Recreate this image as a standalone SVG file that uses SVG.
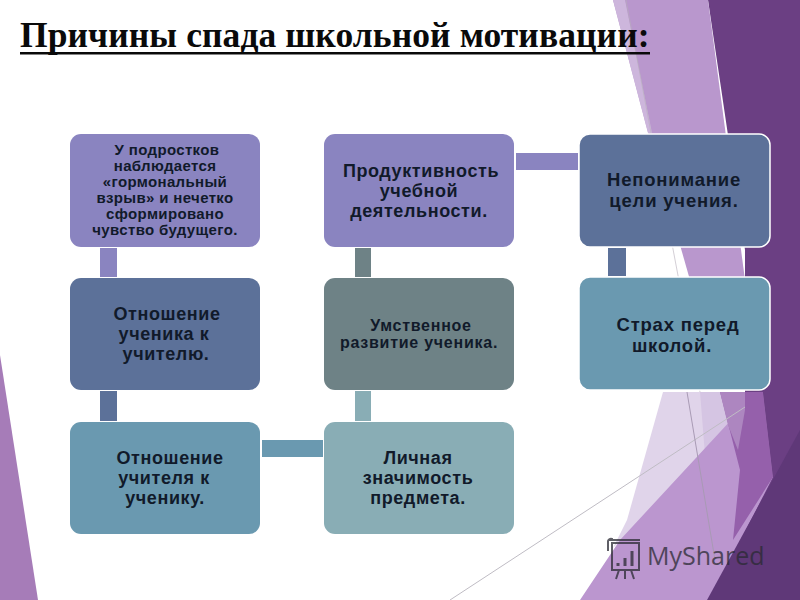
<svg xmlns="http://www.w3.org/2000/svg" width="800" height="600" viewBox="0 0 800 600">
<style>
text{font-family:"Liberation Sans",Arial,sans-serif;font-weight:bold;fill:#111a2a;text-anchor:middle}
.t18{font-size:18px;letter-spacing:.6px}
.t19{font-size:18.5px;letter-spacing:.8px}
.t15{font-size:16px;letter-spacing:.75px}
.t14{font-size:15px;letter-spacing:.35px}
.wl rect{stroke:#fff;stroke-width:1.5}
</style>
<rect width="800" height="600" fill="#fff"/>
<g id="background">
<polygon points="0,355 38,600 0,600" fill="#a67cb8"/>
<polygon points="708,0 800,0 800,600 700,600 745,392 745,250" fill="#6b3f83"/>
<polygon points="613,0 708,0 745,280 690,280 650,140" fill="#b997cd"/>
<polygon points="613,0 625,0 652,133 648,133" fill="#cdb6dc"/>
<polygon points="663,392 745,392 745,410 613,548 627,520" fill="#e0d4ea"/>
<polygon points="700,392 720,392 729,428 705,455" fill="#d5c5e3"/>
<polygon points="745,405 620,540 580,600 710,600 773,477 763,392 745,392" fill="#bb96cf"/>
<polygon points="720,392 763,392 773,477 733,540 740,470" fill="#9560ab"/>
<polygon points="720,392 745,392 745,410 738,450 728,425" fill="#ad86c0"/>
<polygon points="763,392 800,392 800,430 773,477" fill="#6b3f83"/>
<polygon points="800,430 707,600 800,600" fill="#5f3878"/>
<line x1="450" y1="600" x2="745" y2="407" stroke="#bfbcc4" stroke-width="1"/>
<line x1="687" y1="392" x2="715" y2="560" stroke="#a89ab4" stroke-width="1"/>
<line x1="626" y1="0" x2="700" y2="392" stroke="#b8b0bc" stroke-width="1" opacity=".6"/>
</g>
<g id="title">
<text x="20" y="47" style="font-family:'Liberation Serif','Times New Roman',serif;font-size:35.5px;fill:#0a0a0a;text-anchor:start;letter-spacing:.1px">Причины спада школьной мотивации:</text>
<rect x="20" y="52" width="630" height="2.5" fill="#0a0a0a"/>
</g>
<g id="connectors">
<rect x="100" y="248" width="17" height="29" fill="#8a84c0"/>
<rect x="100" y="391" width="17" height="30" fill="#5c7199"/>
<rect x="262" y="440" width="61" height="17" fill="#6a99b0"/>
<rect x="355" y="391" width="16" height="30" fill="#89adb5"/>
<rect x="355" y="248" width="16" height="29" fill="#6e8286"/>
<rect x="516" y="153" width="62" height="17" fill="#8a84c0"/>
<rect x="608" y="248" width="18" height="28" fill="#5c7199"/>
</g>
<g id="n1"><rect x="70" y="134" width="190" height="113" rx="11" fill="#8a84c0"/>
<text class="t14" x="167" y="155">У подростков</text><text class="t14" x="165" y="171">наблюдается</text><text class="t14" x="165" y="187">«гормональный</text><text class="t14" x="165" y="203">взрыв» и нечетко</text><text class="t14" x="165" y="219">сформировано</text><text class="t14" x="165" y="235">чувство будущего.</text></g>
<g id="n2"><rect x="70" y="278" width="190" height="112" rx="11" fill="#5c7199"/>
<text class="t18" x="167" y="320">Отношение</text><text class="t18" x="164" y="340">ученика к</text><text class="t18" x="166" y="360">учителю.</text></g>
<g id="n3"><rect x="70" y="422" width="190" height="112" rx="11" fill="#6a99b0"/>
<text class="t18" x="170" y="464">Отношение</text><text class="t18" x="164" y="484">учителя к</text><text class="t18" x="165" y="504">ученику.</text></g>
<g id="n4"><rect x="324" y="134" width="190" height="113" rx="11" fill="#8a84c0"/>
<text class="t18" x="421" y="177">Продуктивность</text><text class="t18" x="419" y="197">учебной</text><text class="t18" x="419" y="217">деятельности.</text></g>
<g id="n5"><rect x="324" y="278" width="190" height="112" rx="11" fill="#6e8286"/>
<text class="t15" x="421" y="331">Умственное</text><text class="t15" x="419" y="348">развитие ученика.</text></g>
<g id="n6"><rect x="324" y="422" width="190" height="112" rx="11" fill="#89adb5"/>
<text class="t18" x="418" y="464">Личная</text><text class="t18" x="418" y="484">значимость</text><text class="t18" x="418" y="504">предмета.</text></g>
<g id="n7" class="wl"><rect x="579" y="134" width="191" height="113" rx="11" fill="#5c7199"/>
<text class="t19" x="674" y="186">Непонимание</text><text class="t19" x="674" y="207">цели учения.</text></g>
<g id="n8" class="wl"><rect x="579" y="277" width="191" height="113" rx="11" fill="#6a99b0"/>
<text class="t19" x="678" y="331">Страх перед</text><text class="t19" x="672" y="352">школой.</text></g>
<g id="logo" opacity=".75" fill="none" stroke="#2a2a33" stroke-width="2">
<rect x="612" y="543" width="27" height="27"/>
<path d="M608 540h32M612 540v-1a3 3 0 0 0-4 2v10M619 570l-3 9M631 570l3 9M625 570v9"/>
<path d="M618 566v-3M625 566v-8M632 566v-15" stroke-width="3"/>
<text x="647" y="565" style="font-size:25px;font-weight:normal;fill:#2a2a33;stroke:none;text-anchor:start;font-family:'Open Sans','Liberation Sans',sans-serif">MyShared</text>
</g>
</svg>
